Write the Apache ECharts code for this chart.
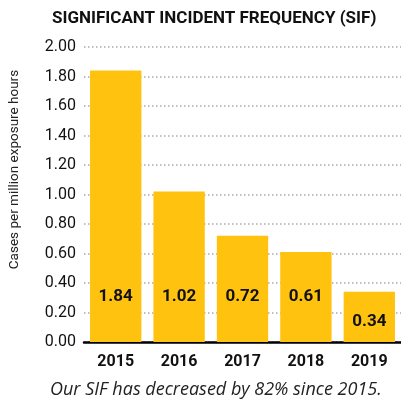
<!DOCTYPE html>
<html><head><meta charset="utf-8">
<script src="https://cdn.jsdelivr.net/npm/echarts@6/dist/echarts.min.js"></script>
<style>html,body{margin:0;padding:0;background:#fff}#c{width:401px;height:402px}</style>
</head><body><div id="c"></div>
<script>
const categories = ['2015','2016','2017','2018','2019'];
const values = [1.84, 1.02, 0.72, 0.61, 0.34];
const yTicks = [0, 0.2, 0.4, 0.6, 0.8, 1.0, 1.2, 1.4, 1.6, 1.8, 2.0];
const titleText = 'SIGNIFICANT INCIDENT FREQUENCY (SIF)';
const yAxisName = 'Cases per million exposure hours';
const footnote = 'Our SIF has decreased by 82% since 2015.';

const cond = 'Roboto,"Liberation Sans",sans-serif';
const chart = echarts.init(document.getElementById('c'), null, {renderer:'canvas'});
chart.setOption({
  animation:false,
  title:[{text:titleText,left:47,top:5,textStyle:{fontFamily:cond,fontWeight:'bold',fontSize:17,color:'#111'}},
         {text:footnote,left:45,top:376,textStyle:{fontFamily:'"Open Sans",sans-serif',fontStyle:'italic',fontWeight:'normal',fontSize:18,color:'#222'}}],
  grid:{left:83,right:-7,top:47,bottom:60},
  xAxis:{type:'category',data:categories,
    axisLine:{lineStyle:{color:'#000',width:2.5}},axisTick:{show:false},
    axisLabel:{fontFamily:cond,fontWeight:'bold',fontSize:16,color:'#111',margin:12}},
  yAxis:{type:'value',min:0,max:2,interval:0.2,
    name:yAxisName,nameLocation:'middle',nameGap:62,
    nameTextStyle:{fontFamily:cond,fontSize:13.5,color:'#222',padding:[0,0,0,50]},
    axisLabel:{fontFamily:cond,fontSize:16,color:'#111',margin:8,formatter:v=>v.toFixed(2)},
    splitLine:{lineStyle:{color:'#aaa',type:[1.5,2.5],width:1.5}}},
  series:[{type:'bar',barCategoryGap:'19%',
    data:values.map((v,i)=>({value:v,label:{distance: i===4?12:37}})),
    itemStyle:{color:'#FFC30F'},
    label:{show:true,position:'insideBottom',fontFamily:cond,fontWeight:'bold',fontSize:17,color:'#111',formatter:p=>p.value.toFixed(2)}}]
});
</script></body></html>
